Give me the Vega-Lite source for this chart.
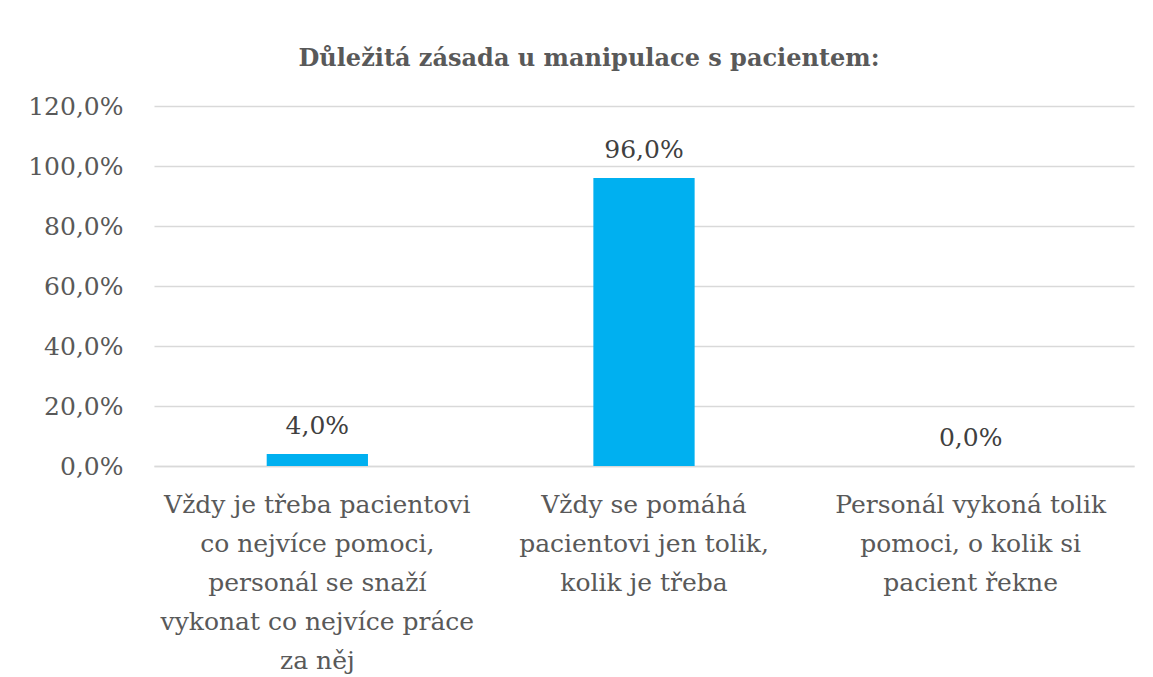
{
  "$schema": "https://vega.github.io/schema/vega-lite/v6.json",
  "autosize": "none",
  "width": 980,
  "height": 360,
  "padding": {"left": 154, "top": 106, "right": 19, "bottom": 211},
  "background": "white",
  "config": {
    "locale": {"number": {"decimal": ",", "thousands": " ", "grouping": [3], "currency": ["", " Kč"], "percent": "%"}},
    "font": "DejaVu Serif",
    "view": {"stroke": null}
  },
  "title": {
    "text": "Důležitá zásada u manipulace s pacientem:",
    "font": "DejaVu Serif",
    "fontSize": 24,
    "fontWeight": "bold",
    "color": "#595959",
    "anchor": "middle",
    "frame": "group",
    "baseline": "alphabetic",
    "offset": 4,
    "dx": -55
  },
  "data": {
    "values": [
      {"kategorie": "Vždy je třeba pacientovi|co nejvíce pomoci,|personál se snaží|vykonat co nejvíce práce|za něj", "podil": 0.04, "poradi": 1},
      {"kategorie": "Vždy se pomáhá|pacientovi jen tolik,|kolik je třeba", "podil": 0.96, "poradi": 2},
      {"kategorie": "Personál vykoná tolik|pomoci, o kolik si|pacient řekne", "podil": 0.0, "poradi": 3}
    ]
  },
  "encoding": {
    "x": {
      "field": "kategorie",
      "type": "nominal",
      "sort": {"field": "poradi"},
      "scale": {"paddingInner": 0.69, "paddingOuter": 0.345},
      "axis": {
        "title": null,
        "labelAngle": 0,
        "labelExpr": "split(datum.label, '|')",
        "labelFont": "DejaVu Serif",
        "labelFontSize": 25,
        "labelColor": "#595959",
        "labelLineHeight": 39,
        "labelPadding": 26,
        "labelBaseline": "top",
        "ticks": false,
        "domainColor": "#d9d9d9",
        "domainWidth": 1.5,
        "labelLimit": 0
      }
    },
    "y": {
      "field": "podil",
      "type": "quantitative",
      "scale": {"domain": [0, 1.2], "nice": false},
      "axis": {
        "title": null,
        "values": [0, 0.2, 0.4, 0.6, 0.8, 1.0, 1.2],
        "format": ".1%",
        "labelFont": "DejaVu Serif",
        "labelFontSize": 25,
        "labelColor": "#595959",
        "labelPadding": 31,
        "ticks": false,
        "domain": false,
        "gridColor": "#d9d9d9",
        "gridWidth": 1.5
      }
    }
  },
  "layer": [
    {"mark": {"type": "bar", "color": "#00b0f0"}},
    {
      "mark": {"type": "text", "baseline": "alphabetic", "dy": -20, "font": "DejaVu Serif", "fontSize": 25, "color": "#404040"},
      "encoding": {"text": {"field": "podil", "type": "quantitative", "format": ".1%"}}
    }
  ]
}
